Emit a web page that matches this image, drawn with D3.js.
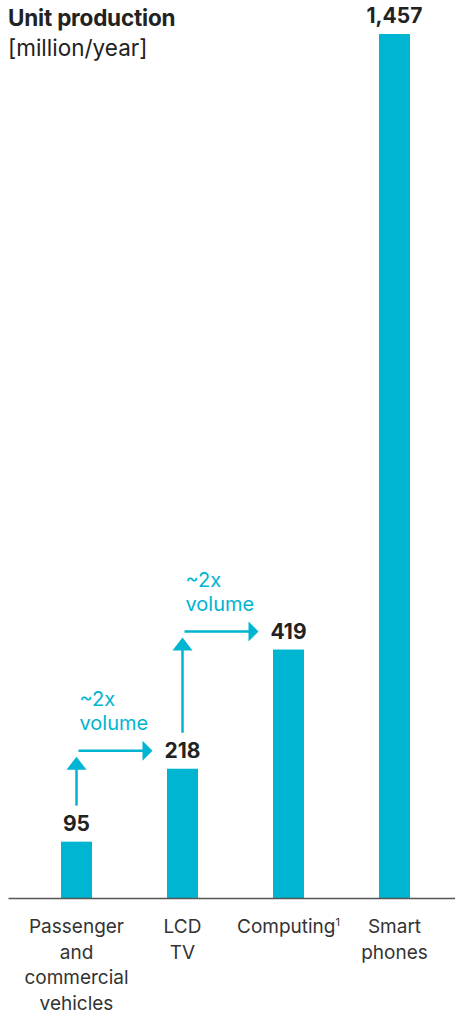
<!DOCTYPE html>
<html>
<head>
<meta charset="utf-8">
<script src="https://cdn.jsdelivr.net/npm/d3@7"></script>
<style>
  html, body { margin: 0; padding: 0; background: #fff; }
  svg { display: block; font-family: Inter, "Open Sans", sans-serif; }
</style>
</head>
<body>
<svg id="chart" width="455" height="1013"></svg>
<script>
// Unit production by product category, million units per year
const categories = ["vehicles", "lcd", "computing", "phones"];
const categoryLabels = [
  ["Passenger", "and", "commercial", "vehicles"],
  ["LCD", "TV"],
  ["Computing"],
  ["Smart", "phones"]
];
const values = [95, 218, 419, 1457];
const valueLabels = ["95", "218", "419", "1,457"];
// "~2x volume" step callouts between consecutive categories
const steps = [[0, 1], [1, 2]];

const teal = "#00b5d1";
const ink = "#222";

const svg = d3.select("#chart");
const baseY = 898;

const x = d3.scaleBand()
  .domain(categories)
  .range([8, 463])
  .paddingInner(0.7075)
  .paddingOuter(0.5);

const y = d3.scaleLinear()
  .domain([0, 1457])
  .range([baseY, 34]);

// Title
svg.append("text").attr("x", 8).attr("y", 26)
  .attr("font-size", 22.5).attr("font-weight", 700).attr("fill", ink)
  .attr("letter-spacing", -0.2)
  .text("Unit production");
svg.append("text").attr("x", 8).attr("y", 56)
  .attr("font-size", 22.5).attr("font-weight", 400).attr("fill", ink)
  .text("[million/year]");

// Bars
svg.append("g").selectAll("rect")
  .data(values)
  .join("rect")
  .attr("x", (d, i) => x(categories[i]))
  .attr("width", x.bandwidth())
  .attr("y", d => y(d))
  .attr("height", d => baseY - y(d))
  .attr("fill", teal);

// Value labels
svg.append("g").selectAll("text")
  .data(values)
  .join("text")
  .attr("x", (d, i) => x(categories[i]) + x.bandwidth() / 2)
  .attr("y", d => y(d) - 11)
  .attr("text-anchor", "middle")
  .attr("font-size", 21).attr("font-weight", 700).attr("fill", ink)
  .text((d, i) => valueLabels[i]);

// Baseline axis
const axis = svg.append("g").attr("transform", `translate(0,${baseY})`)
  .call(d3.axisBottom(x).tickSize(0).tickFormat(""));
axis.select(".domain").attr("stroke", "#555").attr("stroke-width", 1.5);

// Category labels
const catG = svg.append("g");
categories.forEach((c, i) => {
  const cx = x(c) + x.bandwidth() / 2;
  const t = catG.append("text")
    .attr("x", cx)
    .attr("y", 933)
    .attr("text-anchor", "middle")
    .attr("font-size", 19).attr("fill", "#333");
  categoryLabels[i].forEach((line, j) => {
    t.append("tspan")
      .attr("x", cx)
      .attr("dy", j === 0 ? 0 : 25.5)
      .text(line);
  });
  if (c === "computing") {
    t.append("tspan").attr("dy", -7).attr("font-size", 11).text("1");
  }
});

// Step arrows: up from a bar's label, then across to the next bar's label
const arrowG = svg.append("g");
steps.forEach(([a, b]) => {
  const cx = x(categories[a]) + x.bandwidth() / 2;
  const nx = x(categories[b]) + x.bandwidth() / 2;
  const yStart = y(values[a]) - 36;
  const yMid = y(values[b]) - 18;
  // vertical shaft and head
  arrowG.append("line")
    .attr("x1", cx).attr("x2", cx)
    .attr("y1", yStart).attr("y2", yMid + 16)
    .attr("stroke", teal).attr("stroke-width", 2.5);
  arrowG.append("path")
    .attr("d", `M${cx - 10},${yMid + 19} L${cx},${yMid + 6} L${cx + 10},${yMid + 19} Z`)
    .attr("fill", teal);
  // horizontal shaft and head
  const xEnd = nx - 30;
  arrowG.append("line")
    .attr("x1", cx + 2).attr("x2", xEnd - 9)
    .attr("y1", yMid).attr("y2", yMid)
    .attr("stroke", teal).attr("stroke-width", 2.5);
  arrowG.append("path")
    .attr("d", `M${xEnd - 10},${yMid - 10} L${xEnd},${yMid} L${xEnd - 10},${yMid + 10} Z`)
    .attr("fill", teal);
  // callout text
  const lt = arrowG.append("text")
    .attr("x", cx + 3).attr("y", yMid - 45)
    .attr("font-size", 20).attr("fill", teal);
  lt.append("tspan").attr("x", cx + 3).text("~2x");
  lt.append("tspan").attr("x", cx + 3).attr("dy", 24).text("volume");
});
</script>
</body>
</html>
